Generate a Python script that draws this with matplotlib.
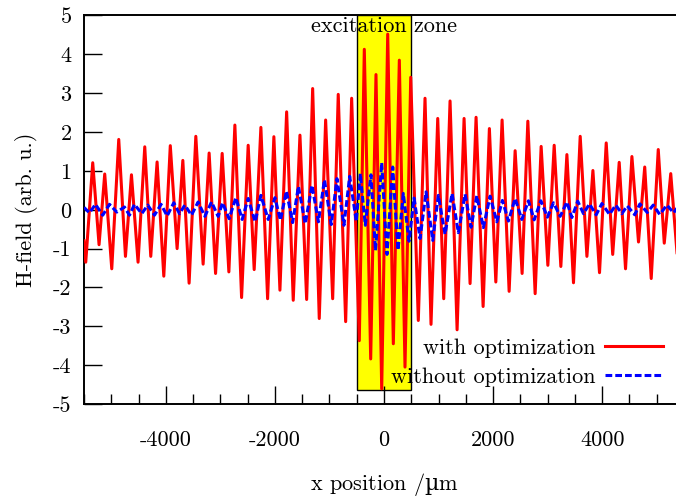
import matplotlib
matplotlib.use('Agg')
import matplotlib.pyplot as plt
from matplotlib.patches import Rectangle

plt.rcParams['font.family'] = ['cmr10', 'DejaVu Serif']
plt.rcParams['axes.unicode_minus'] = False
plt.rcParams['axes.formatter.use_mathtext'] = False
plt.rcParams['mathtext.fontset'] = 'custom'
plt.rcParams['mathtext.rm'] = 'DejaVu Serif'

# extrema of the field (x in um)
x_opt = [-5500, -5468, -5340, -5224, -5120, -4991, -4863, -4740, -4630, -4509,
         -4386, -4276, -4160, -4037, -3918, -3793, -3688, -3573, -3450, -3316,
         -3206, -3088, -2967, -2844, -2734, -2611, -2490, -2380, -2257, -2134,
         -2019, -1908, -1785, -1664, -1541, -1418, -1308, -1187, -1070, -941,
         -839, -703, -593, -453, -361, -244, -147, -42, 68, 171,
         281, 385, 490, 629, 752, 862, 985, 1095, 1211, 1340,
         1468, 1578, 1688, 1817, 1932, 2050, 2165, 2294, 2404, 2532,
         2637, 2771, 2881, 3004, 3120, 3242, 3353, 3474, 3597, 3720,
         3830, 3951, 4074, 4193, 4312, 4428, 4545, 4666, 4780, 4899,
         5028, 5138, 5257, 5377]
h_opt = [-0.80, -1.35, 1.21, -0.90, 0.92, -1.52, 1.81, -1.20, 0.90, -1.35,
         1.62, -1.20, 1.23, -1.71, 1.65, -1.00, 1.27, -1.89, 1.89, -1.40,
         1.46, -1.64, 1.45, -1.60, 2.18, -2.26, 1.66, -1.54, 2.12, -2.29,
         1.88, -2.07, 2.52, -2.33, 1.92, -2.31, 3.12, -2.80, 2.31, -2.29,
         2.97, -2.88, 2.87, -3.37, 4.13, -3.84, 3.48, -4.61, 4.52, -3.45,
         3.85, -4.05, 3.41, -2.85, 2.87, -2.95, 2.35, -2.29, 2.80, -3.09,
         2.35, -1.90, 2.38, -2.49, 2.09, -1.86, 2.31, -2.10, 1.52, -1.64,
         2.28, -2.16, 1.63, -1.43, 1.66, -1.46, 1.42, -1.88, 1.89, -1.20,
         1.01, -1.62, 1.72, -1.15, 1.22, -1.52, 1.37, -0.83, 1.10, -1.77,
         1.55, -0.86, 0.93, -1.20]

x_noopt = [-5500, -5400, -5290, -5156, -5033, -4899, -4758, -4666, -4575, -4441,
           -4331, -4208, -4087, -3976, -3854, -3749, -3652, -3529, -3408, -3285,
           -3162, -3041, -2960, -2839, -2716, -2600, -2490, -2362, -2257, -2123,
           -2000, -1899, -1789, -1675, -1569, -1444, -1321, -1202, -1092, -967,
           -862, -734, -629, -508, -435, -343, -239, -156, -42, 55,
           160, 257, 354, 459, 551, 661, 771, 894, 996, 1119,
           1248, 1363, 1486, 1596, 1701, 1822, 1945, 2068, 2171, 2281,
           2404, 2527, 2648, 2753, 2875, 2997, 3107, 3230, 3353, 3444,
           3551, 3657, 3767, 3890, 3995, 4134, 4248, 4362, 4459, 4597,
           4692, 4826, 4936, 5055, 5188, 5309, 5377]
h_noopt = [0.06, -0.08, 0.14, -0.14, 0.14, -0.06, 0.07, -0.14, 0.14, -0.10,
           0.12, -0.14, 0.14, -0.16, 0.18, -0.10, 0.12, -0.14, 0.20, -0.17,
           0.20, -0.17, 0.18, -0.23, 0.31, -0.25, 0.29, -0.31, 0.37, -0.25,
           0.31, -0.27, 0.48, -0.33, 0.60, -0.36, 0.63, -0.31, 0.77, -0.38,
           0.80, -0.40, 0.86, -0.30, 0.93, -0.40, 0.90, -1.05, 1.21, -1.15,
           1.10, -1.04, 0.42, -0.81, 0.30, -0.74, 0.46, -0.79, 0.37, -0.63,
           0.42, -0.59, 0.40, -0.45, 0.36, -0.46, 0.35, -0.31, 0.24, -0.29,
           0.29, -0.25, 0.23, -0.26, 0.23, -0.19, 0.18, -0.17, 0.20, -0.20,
           0.22, -0.10, 0.15, -0.13, 0.16, -0.12, 0.12, -0.10, 0.10, -0.13,
           0.15, -0.07, 0.12, -0.12, 0.12, -0.08, 0.05]

zone_x = [-500, 500]
zone_y = [-4.65, 5]

fig = plt.figure(figsize=(6.76, 4.98), dpi=100)
ax = fig.add_axes([84/676, 94/498, 600/676, 388.5/498])

ax.add_patch(Rectangle((zone_x[0], zone_y[0]), zone_x[1]-zone_x[0], zone_y[1]-zone_y[0],
                       facecolor='#ffff00', edgecolor='black', lw=1.0, zorder=1))
ax.text(0, 4.72, 'excitation zone', ha='center', va='center', fontsize=16, zorder=5)

ax.plot(x_opt, h_opt, color='#ff0000', lw=2.2, label='with optimization', zorder=3,
        solid_joinstyle='round')
ax.plot(x_noopt, h_noopt, color='#0000ff', lw=2.2, ls=(0, (2.2, 1.0)),
        label='without optimization', zorder=4)

ax.set_xlim(-5500, 5500)
ax.set_ylim(-5, 5)
ax.set_xticks([-4000, -2000, 0, 2000, 4000])
ax.set_xticks(range(-5500, 5501, 500), minor=True)
ax.set_yticks(range(-5, 6))
ax.tick_params(axis='both', which='major', direction='in', length=13, width=1.0,
               labelsize=16, top=False, right=False)
ax.tick_params(axis='x', which='major', pad=19)
ax.tick_params(axis='y', which='major', pad=9)
ax.tick_params(axis='x', which='minor', direction='in', length=7, width=1.0, top=False)
for s in ['top', 'left', 'bottom']:
    ax.spines[s].set_linewidth(1.4)
ax.spines['right'].set_visible(False)

ax.set_xlabel(r'x position /$\mathrm{µ}$m', fontsize=16, labelpad=15)
ax.set_ylabel('H-field (arb. u.)', fontsize=16, labelpad=11)

ax.legend(loc='lower right', bbox_to_anchor=(0.98, 0.022), frameon=False,
          markerfirst=False, fontsize=16, handlelength=2.6, handletextpad=0.45,
          labelspacing=0.4, borderaxespad=0)

fig.savefig('out.png', dpi=100)
